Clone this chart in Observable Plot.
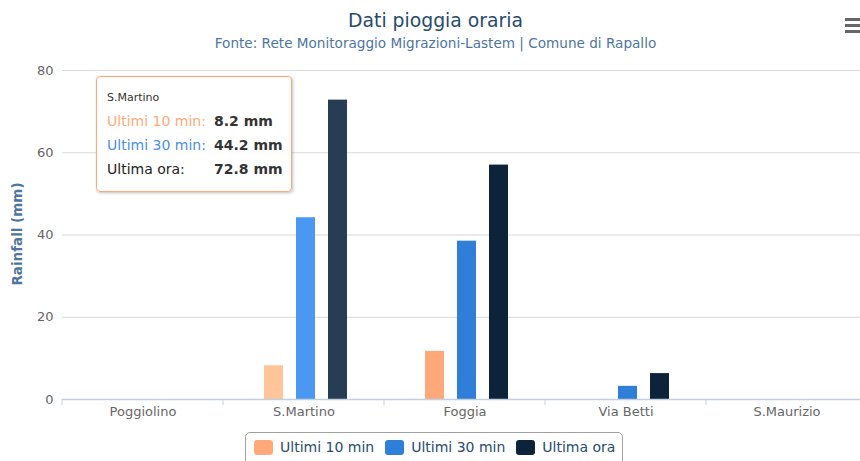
<!DOCTYPE html>
<html><head><meta charset="utf-8">
<script src="https://cdn.jsdelivr.net/npm/d3@7"></script>
<script src="https://cdn.jsdelivr.net/npm/@observablehq/plot@0.6"></script>
<style>
body{margin:0;background:#fff;font-family:"DejaVu Sans",sans-serif;}
#wrap{position:relative;width:860px;height:461px;overflow:hidden;}
#head{height:52px;position:relative;}
#title{position:absolute;left:0;width:871px;top:9px;text-align:center;font-size:18.8px;color:#274b6d;line-height:24px;}
#subtitle{position:absolute;left:0;width:871px;top:35px;text-align:center;font-size:13.6px;color:#4d759e;line-height:17px;}
#ylabel{position:absolute;left:17px;top:234px;transform:translate(-50%,-50%) rotate(-90deg);font-size:13.5px;font-weight:bold;color:#4d759e;white-space:nowrap;}
#legend{position:absolute;left:245px;top:432px;width:378px;height:40px;border:1px solid #a0a0a0;border-radius:5px;display:flex;align-items:flex-start;padding:6px 0 0 8px;box-sizing:border-box;}
.item{display:flex;align-items:center;margin-right:11px;font-size:14px;color:#274b6d;white-space:nowrap;flex-shrink:0;}
.sym{width:19px;height:15px;border-radius:3px;margin-right:7px;flex-shrink:0;}
#tip{position:absolute;left:96px;top:76px;width:194px;height:114px;border:1px solid #FFA97A;border-radius:4px;background:rgba(255,255,255,0.92);box-shadow:1px 1px 3px rgba(0,0,0,0.25);font-size:14px;}
#tip .hd{position:absolute;left:10px;top:14px;font-size:11px;color:#333;}
#tip .row{position:absolute;left:10px;white-space:nowrap;}
#tip .val{position:absolute;left:117px;font-weight:bold;color:#333;white-space:nowrap;}
.bar{position:absolute;left:845px;width:16px;height:3px;background:#666;}
</style>
</head><body>
<div id="wrap">
  <div id="head"><div id="title"></div><div id="subtitle"></div></div>
  <div id="chart"></div>
  <div id="ylabel"></div>
  <div id="legend"></div>
  <div id="tip"></div>
  <div class="bar" style="top:18px"></div><div class="bar" style="top:24px"></div><div class="bar" style="top:30px"></div>
</div>
<script>
const titleText = "Dati pioggia oraria";
const subtitleText = "Fonte: Rete Monitoraggio Migrazioni-Lastem | Comune di Rapallo";
const yLabel = "Rainfall (mm)";
const categories = ["Poggiolino", "S.Martino", "Foggia", "Via Betti", "S.Maurizio"];
const series = ["Ultimi 10 min", "Ultimi 30 min", "Ultima ora"];
const last10 = [0, 8.2, 11.7, 0, 0];
const last30 = [0, 44.2, 38.5, 3.2, 0];
const lastHour = [0, 72.8, 57.0, 6.3, 0];
const yTicks = [0, 20, 40, 60, 80];
const colors = ["#FFA97A", "#2F7ED8", "#0D233A"];
const hoverColors = ["#FFC497", "#4A98F2", "#273D54"];
const tipColors = ["#FFA97A", "#4A90E2", "#222222"];
const hovered = "S.Martino";
const unit = "mm";

document.getElementById("title").textContent = titleText;
document.getElementById("subtitle").textContent = subtitleText;
document.getElementById("ylabel").textContent = yLabel;

const seriesValues = [last10, last30, lastHour];
const rows = [];
categories.forEach((c, i) => series.forEach((s, j) => {
  rows.push({category: c, series: s, value: seriesValues[j][i],
    color: c === hovered ? hoverColors[j] : colors[j]});
}));

const plot = Plot.plot({
  width: 860, height: 371,
  marginLeft: 61, marginRight: -8, marginTop: 18, marginBottom: 24,
  fx: {domain: categories, padding: 0, label: null},
  x: {domain: series, paddingInner: 0.4, paddingOuter: 1.18, align: 0.53, axis: null},
  y: {domain: [0, 80], label: null},
  color: {type: "identity"},
  style: {fontFamily: "DejaVu Sans", fontSize: "13px", color: "#666", background: "transparent"},
  marks: [
    Plot.gridY(yTicks, {stroke: "#d8d8d8", strokeOpacity: 1}),
    Plot.axisY(yTicks, {tickSize: 0, tickPadding: 9, label: null, fill: "#666", fontSize: 13}),
    Plot.barY(rows, {fx: "category", x: "series", y: "value", fill: "color"}),
    Plot.ruleY([0], {stroke: "#c0d0e0", strokeWidth: 1.5}),
    Plot.axisFx({anchor: "bottom", tickSize: 0, tickPadding: 7, label: null, fill: "#666", fontSize: 13})
  ]
});
document.getElementById("chart").appendChild(plot);

// category boundary ticks from the fx scale
const fx = plot.scale("fx"), ys = plot.scale("y");
const y0 = ys.apply(0);
const bounds = categories.map(c => fx.apply(c)).concat([fx.apply(categories[categories.length - 1]) + fx.step]);
d3.select(plot).append("g").selectAll("line").data(bounds).join("line")
  .attr("x1", d => d).attr("x2", d => d).attr("y1", y0).attr("y2", y0 + 6)
  .attr("stroke", "#c0d0e0").attr("stroke-width", 1);

// legend
const legend = d3.select("#legend");
series.forEach((s, j) => {
  const it = legend.append("div").attr("class", "item");
  it.append("div").attr("class", "sym").style("background", colors[j]);
  it.append("span").text(s);
});

// tooltip
const hi = categories.indexOf(hovered);
const tip = d3.select("#tip");
tip.append("div").attr("class", "hd").text(hovered);
series.forEach((s, j) => {
  const top = 36 + j * 24;
  tip.append("div").attr("class", "row").style("top", top + "px").style("color", tipColors[j]).text(s + ":");
  tip.append("div").attr("class", "val").style("top", top + "px").text(seriesValues[j][hi].toFixed(1) + " " + unit);
});
</script>
</body></html>
